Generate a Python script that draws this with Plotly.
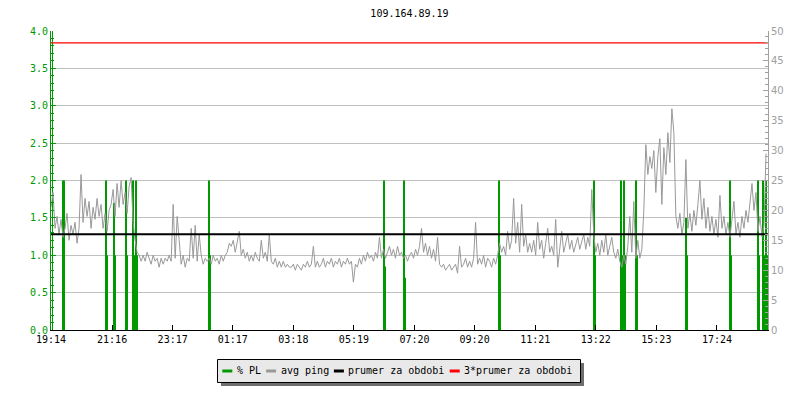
import numpy as np
import pandas as pd
import plotly.graph_objects as go

# ---- data ----

title_text = "109.164.89.19"
start_time = "2024-01-01 19:14"
span_minutes = 1432
ping_step_minutes = 4

# avg ping (ms), one value every 4 minutes
ping_ms = [
    20.5, 23, 17, 19, 16, 18.5, 15.5, 17, 19.5, 15, 17.5, 16, 18, 14.5, 17, 26, 18, 22, 19, 21.5, 17, 20.5, 18.5, 22, 19, 21, 17, 19.5, 16.5, 20,
    21, 23.5, 19, 24.5, 20.5, 25, 21, 23, 19.5, 24, 25.5, 18, 15, 13, 12.5, 11.5, 12.5, 11.5, 13, 12, 11, 12.5, 11.5, 12, 10.5, 12, 11, 12, 11.5, 12.5,
    11.5, 21, 12, 19, 15.5, 11, 12.5, 10.5, 12, 11.5, 17, 12, 17.5, 11.5, 16, 12.5, 11, 12, 11.5, 12, 11, 12.5, 11.5, 12, 11, 12.5, 11.5, 12.5, 13, 14.5,
    14, 15, 13, 14.5, 16.5, 12.5, 13.5, 12, 13, 11.5, 12.5, 11.5, 13, 12, 11.5, 15, 12, 13, 11.5, 16, 11.5, 11, 12, 10.5, 11.5, 10.5, 11.5, 10.5, 11, 10.5,
    10.5, 11, 10, 11, 10.5, 10, 11, 10.5, 11.5, 10.5, 11, 14, 10.5, 11.5, 10.5, 11, 12, 10.5, 11.5, 11, 12, 10.5, 11.5, 11, 12, 10.5, 11.5, 11, 12, 11,
    11.5, 8, 11, 10.5, 12, 11, 12.5, 11.5, 13, 12, 12.5, 11.5, 13, 12, 15.5, 12, 13.5, 12, 13, 14, 12.5, 13.5, 12, 14, 12.5, 13, 12, 12.5, 11.5, 12.5,
    13, 12, 13.5, 12.5, 14, 17, 13, 14.5, 12.5, 14, 12, 13.5, 11.5, 15.5, 11, 10.5, 11, 10, 10.5, 11, 10, 10.5, 11, 9.5, 14, 10.5, 11, 12, 10.5, 11.5,
    10.5, 12, 18, 11, 12, 11, 12.5, 10.5, 12, 11.5, 10.5, 12, 11, 12.5, 14.5, 13, 14, 12.5, 16.5, 13.5, 15, 22, 14.5, 18, 13, 21, 14, 16, 13, 14.5,
    13, 15, 12.5, 18, 13.5, 15, 12, 14.5, 17, 13, 14, 12.5, 18.5, 10.5, 14, 16.5, 13, 14.5, 16, 13.5, 15, 13, 14.5, 15.5, 13.5, 15, 16, 13.5, 15.5, 14,
    23.5, 16, 13, 14.5, 12.5, 15, 13, 16, 12.5, 14, 15.5, 13, 12, 13.5, 11.5, 10.5, 12.5, 11, 14, 19, 13, 21.5, 12, 15, 12, 13.5, 20, 31, 26, 29,
    27, 30, 23, 29, 32, 21, 30.5, 26, 33, 28, 37, 33, 19, 17, 19.5, 16, 18, 28.5, 17, 19.5, 16.5, 20, 17.5, 21, 25, 18.5, 22, 17, 20.5, 16.5,
    19, 16, 18.5, 15.5, 22.5, 17, 19, 16, 18, 15.5, 19, 21.5, 16, 18, 15.5, 19, 17, 20, 18, 21, 24.5, 20, 23, 16.5, 19, 15.5, 17.5, 29.5,
]

# packet loss (%), minute offsets from start
pl_minute = [3, 24, 26, 110, 112, 126, 128, 150, 152, 164, 166, 170, 172, 316, 318,
             666, 668, 706, 708, 894, 896, 1084, 1086, 1138, 1140, 1144, 1146,
             1168, 1170, 1268, 1270, 1356, 1358, 1412, 1414, 1422, 1424, 1428, 1430]
pl_pct = [4.0, 2.0, 2.0, 2.0, 1.0, 1.7, 1.0, 2.0, 1.0, 2.0, 1.0, 2.0, 1.0, 2.0, 1.0,
          2.0, 0.85, 2.0, 0.7, 2.0, 1.0, 2.0, 1.0, 2.0, 1.0, 2.0, 1.0,
          2.0, 1.0, 1.5, 1.0, 2.0, 1.0, 2.0, 1.0, 2.0, 1.0, 2.0, 1.0]

avg_ping = 16.0
avg_ping_x3 = 48.0

tick_labels = ["19:14", "21:16", "23:17", "01:17", "03:18", "05:19",
               "07:20", "09:20", "11:21", "13:22", "15:23", "17:24"]

legend_labels = ["% PL", "avg ping", "prumer za obdobi", "3*prumer za obdobi"]

GREEN = "#009900"
GRAY = "#999999"
BLACK = "#000000"
RED = "#ff0000"
legend_colors = [GREEN, GRAY, BLACK, RED]

MONO = "DejaVu Sans Mono"

# ---- derived x values ----

t0 = pd.Timestamp(start_time)
t_end = t0 + pd.Timedelta(minutes=span_minutes)
ping_x = [t0 + pd.Timedelta(minutes=ping_step_minutes * i) for i in range(len(ping_ms))]
pl_x = [t0 + pd.Timedelta(minutes=m) for m in pl_minute]

tick_vals = []
for lab in tick_labels:
    t = pd.Timestamp(t0.strftime("%Y-%m-%d") + " " + lab)
    if t < t0:
        t += pd.Timedelta(days=1)
    tick_vals.append(t)

fig = go.Figure()

# % PL
fig.add_trace(
    go.Bar(
        x=pl_x,
        y=pl_pct,
        width=2 * 60 * 1000,
        marker=dict(color=GREEN, line=dict(width=0)),
        name="% PL"
    )
)

# avg ping
fig.add_trace(
    go.Scatter(
        x=ping_x,
        y=ping_ms,
        mode="lines",
        line=dict(color=GRAY, width=1),
        name="avg ping",
        yaxis="y2"
    )
)

# averages
fig.add_trace(
    go.Scatter(
        x=[t0, t_end],
        y=[avg_ping, avg_ping],
        mode="lines",
        line=dict(color=BLACK, width=2),
        name="prumer za obdobi",
        yaxis="y2"
    )
)

fig.add_trace(
    go.Scatter(
        x=[t0, t_end],
        y=[avg_ping_x3, avg_ping_x3],
        mode="lines",
        line=dict(color=RED, width=1.2),
        name="3*prumer za obdobi",
        yaxis="y2"
    )
)

# plot box in pixels: x 51..768, y 31..330
def px_x(px):
    return (px - 51) / 717


def px_y(py):
    return (330 - py) / 299


# legend drawn by hand (rrdtool style)
shapes = [
    dict(type="rect", xref="paper", yref="paper",
         x0=px_x(221), x1=px_x(584), y0=px_y(386), y1=px_y(363),
         fillcolor="#6e6e6e", line=dict(width=0), layer="above"),
    dict(type="rect", xref="paper", yref="paper",
         x0=px_x(217.5), x1=px_x(580.5), y0=px_y(382.5), y1=px_y(359.5),
         fillcolor="#e9e9e9", line=dict(color=BLACK, width=1), layer="above"),
]
annotations = []
cx = 222.3
for lab, col in zip(legend_labels, legend_colors):
    shapes.append(dict(type="line", xref="paper", yref="paper",
                       x0=px_x(cx), x1=px_x(cx + 10), y0=px_y(371), y1=px_y(371),
                       line=dict(color=col, width=3), layer="above"))
    tx = cx + 14.4
    annotations.append(dict(x=px_x(tx - 2), y=px_y(370), xref="paper", yref="paper",
                            text=lab, showarrow=False, xanchor="left", yanchor="middle",
                            font=dict(family=MONO, size=10, color=BLACK)))
    cx = tx + 6 * len(lab) + 5.4

fig.update_layout(
    width=800,
    height=400,
    margin=dict(l=51, r=32, t=31, b=70),
    plot_bgcolor="white",
    paper_bgcolor="white",
    showlegend=False,
    title=dict(
        text=title_text,
        x=0.5,
        xref="paper",
        y=1 - 13 / 400,
        yref="container",
        yanchor="middle",
        font=dict(family=MONO, size=10, color=BLACK)
    ),
    xaxis=dict(
        type="date",
        range=[t0, t_end],
        tickvals=tick_vals,
        ticktext=tick_labels,
        ticks="inside",
        ticklen=5,
        tickcolor=BLACK,
        showline=True,
        linecolor=BLACK,
        linewidth=1,
        showgrid=False,
        zeroline=False,
        tickfont=dict(family=MONO, size=10, color=BLACK)
    ),
    yaxis=dict(
        range=[0, 4],
        dtick=0.5,
        tickformat=".1f",
        showgrid=True,
        gridcolor="#c0c0c0",
        gridwidth=1,
        zeroline=False,
        showline=True,
        linecolor=GREEN,
        linewidth=1,
        ticks="inside",
        ticklen=5,
        tickcolor=GREEN,
        tickfont=dict(family=MONO, size=10, color=GREEN),
        minor=dict(dtick=0.1, ticks="inside", ticklen=3, tickcolor=GREEN, showgrid=False)
    ),
    yaxis2=dict(
        range=[0, 50],
        dtick=5,
        overlaying="y",
        side="right",
        showgrid=False,
        zeroline=False,
        showline=True,
        linecolor="#a0a0a0",
        linewidth=1,
        ticks="inside",
        ticklen=5,
        tickcolor="#a0a0a0",
        tickfont=dict(family="DejaVu Sans", size=10, color="#a0a0a0"),
        minor=dict(dtick=1, ticks="inside", ticklen=3, tickcolor="#a0a0a0", showgrid=False)
    ),
    shapes=shapes,
    annotations=annotations,
    hovermode=False
)

# page body has an 8px default margin; remove it so the figure sits at 0,0
fig.write_html(
    "out.html",
    config={"displayModeBar": False},
    post_script="document.body.style.margin='0';"
)
